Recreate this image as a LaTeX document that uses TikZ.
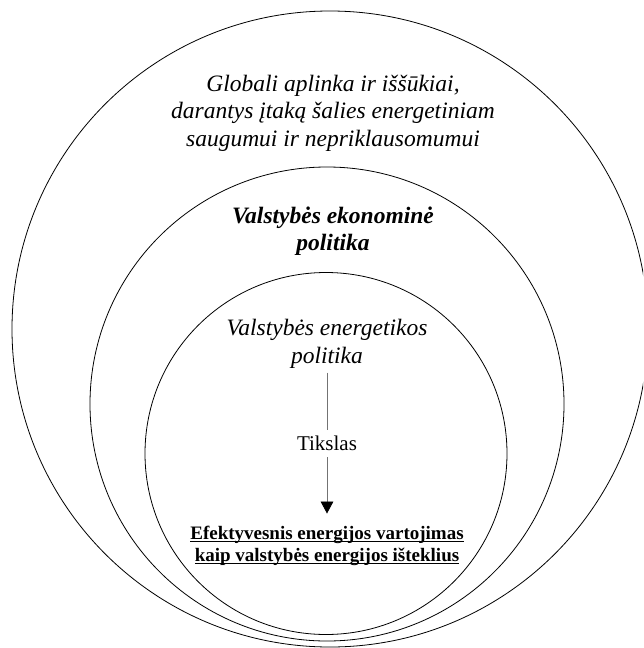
\documentclass[tikz,border=0pt]{standalone}
\usepackage{fontspec}
\setmainfont{Liberation Serif}
\usetikzlibrary{arrows.meta}

% underline drawn as a rule just below the baseline
\newsavebox\ulbox
\newcommand\ulined[1]{\sbox\ulbox{#1}\rlap{\rule[-3.2pt]{\wd\ulbox}{1.3pt}}\usebox\ulbox}

\begin{document}
\begin{tikzpicture}[x=1pt,y=-1pt,
  ring/.style={draw=black, line width=0.8pt},
  ringtext/.style={align=center, inner sep=0pt,
    font=\fontsize{23.5}{27.5}\selectfont\itshape},
  labeltext/.style={inner sep=0pt, minimum height=27pt,
    font=\fontsize{21}{24}\selectfont},
  goaltext/.style={align=center, inner sep=0pt,
    font=\fontsize{19}{22}\selectfont\bfseries},
  link/.style={draw=black!55, line width=0.8pt}
]
\clip (0,0) rectangle (643,648);

% nested circles
\draw[ring] (330,329) circle[radius=318pt];
\draw[ring] (327,404) circle[radius=237pt];
\draw[ring] (326,453.5) circle[radius=181pt];

% circle titles
\node[ringtext] (global) at (333,113)
  {Globali aplinka ir iššūkiai,\\darantys įtaką šalies energetiniam\\saugumui ir nepriklausomumui};
\node[ringtext, font=\fontsize{23.5}{27.5}\selectfont\bfseries\itshape] (econ) at (333,231)
  {Valstybės ekonominė\\politika};
\node[ringtext] (energy) at (327,344)
  {Valstybės energetikos\\politika};

% goal chain
\node[labeltext] (aim) at (327,443.5) {Tikslas};
\node[goaltext] (goal) at (327,545.5)
  {\ulined{Efektyvesnis energijos vartojimas}\\\ulined{kaip valstybės energijos išteklius}};

\draw[link, shorten <=4pt] (energy.south) -- (aim.north);
\draw[link, shorten >=12pt, -{Triangle[width=12.7pt,length=12pt,color=black]}]
  (aim.south) -- (goal.north);
\end{tikzpicture}
\end{document}
